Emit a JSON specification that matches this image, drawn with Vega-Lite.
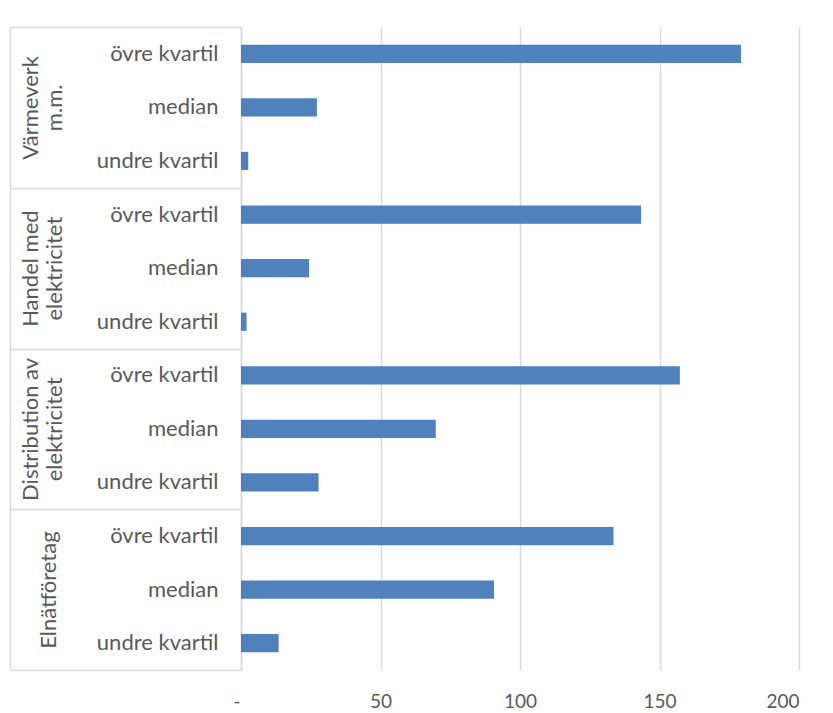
{
  "$schema": "https://vega.github.io/schema/vega-lite/v6.json",
  "autosize": "none",
  "width": 558,
  "height": 643,
  "padding": {"left": 241, "top": 27, "right": 34, "bottom": 43},
  "background": "white",
  "config": {
    "view": {"stroke": null},
    "font": "Lato",
    "axis": {"labelFont": "Lato", "labelColor": "#595959", "labelFontSize": 19, "titleFont": "Lato"}
  },
  "data": {
    "values": [
      {"group": "Värmeverk|m.m.", "key": "Värmeverk m.m.|övre kvartil", "value": 179.2},
      {"group": "Värmeverk|m.m.", "key": "Värmeverk m.m.|median", "value": 27.2},
      {"group": "Värmeverk|m.m.", "key": "Värmeverk m.m.|undre kvartil", "value": 2.6},
      {"group": "Handel med|elektricitet", "key": "Handel med elektricitet|övre kvartil", "value": 143.4},
      {"group": "Handel med|elektricitet", "key": "Handel med elektricitet|median", "value": 24.4},
      {"group": "Handel med|elektricitet", "key": "Handel med elektricitet|undre kvartil", "value": 2.0},
      {"group": "Distribution av|elektricitet", "key": "Distribution av elektricitet|övre kvartil", "value": 157.3},
      {"group": "Distribution av|elektricitet", "key": "Distribution av elektricitet|median", "value": 69.8},
      {"group": "Distribution av|elektricitet", "key": "Distribution av elektricitet|undre kvartil", "value": 27.8},
      {"group": "Elnätföretag", "key": "Elnätföretag|övre kvartil", "value": 133.5},
      {"group": "Elnätföretag", "key": "Elnätföretag|median", "value": 90.7},
      {"group": "Elnätföretag", "key": "Elnätföretag|undre kvartil", "value": 13.5}
    ]
  },
  "layer": [
    {
      "mark": {"type": "bar", "color": "#4F81BD"},
      "encoding": {
        "x": {
          "field": "value", "type": "quantitative",
          "scale": {"domain": [0, 200], "nice": false},
          "axis": {
            "title": null, "values": [0, 50, 100, 150, 200],
            "grid": true, "gridColor": "#d9d9d9", "gridWidth": 1.5,
            "domain": false, "ticks": false, "labelPadding": 22,
            "labelOffset": {"condition": {"test": "datum.value == 0", "value": -8}, "value": 0},
            "labelExpr": "datum.value == 0 ? '-' : datum.label"
          }
        },
        "y": {
          "field": "key", "type": "nominal",
          "scale": {
            "domain": [
              "Värmeverk m.m.|övre kvartil", "Värmeverk m.m.|median", "Värmeverk m.m.|undre kvartil",
              "Handel med elektricitet|övre kvartil", "Handel med elektricitet|median", "Handel med elektricitet|undre kvartil",
              "Distribution av elektricitet|övre kvartil", "Distribution av elektricitet|median", "Distribution av elektricitet|undre kvartil",
              "Elnätföretag|övre kvartil", "Elnätföretag|median", "Elnätföretag|undre kvartil"
            ],
            "paddingInner": 0.66, "paddingOuter": 0.33
          },
          "axis": {
            "title": null, "orient": "left",
            "domainColor": "#d9d9d9", "domainWidth": 1.5,
            "ticks": false, "labelFontSize": 22,
            "labelPadding": 23, "labelLimit": 300,
            "labelExpr": "isString(datum.value) ? split(datum.value, '|')[1] : ''"
          }
        }
      }
    },
    {
      "mark": {"type": "rule", "opacity": 0},
      "encoding": {
        "y": {
          "field": "group", "type": "nominal",
          "scale": {
            "domain": ["Värmeverk|m.m.", "Handel med|elektricitet", "Distribution av|elektricitet", "Elnätföretag"],
            "paddingInner": 0, "paddingOuter": 0
          },
          "axis": {
            "title": null, "orient": "left", "offset": 0,
            "domain": false,
            "tickBand": "extent", "tickSize": 231, "tickWidth": 1.5, "tickColor": "#d9d9d9",
            "labelAngle": 270, "labelAlign": "center", "labelBaseline": "middle",
            "labelFontSize": 22,
            "labelPadding": {"condition": {"test": "isString(datum.value) && indexof(datum.value, '|') >= 0", "value": -20}, "value": -38},
            "labelLimit": 300, "labelLineHeight": 24,
            "labelExpr": "isString(datum.value) ? split(datum.value, '|') : ''"
          }
        }
      }
    },
    {
      "mark": {"type": "rule", "opacity": 0},
      "encoding": {
        "y": {
          "field": "group", "type": "nominal",
          "scale": {
            "domain": ["Värmeverk|m.m.", "Handel med|elektricitet", "Distribution av|elektricitet", "Elnätföretag"],
            "paddingInner": 0, "paddingOuter": 0
          },
          "axis": {
            "title": null, "orient": "left", "offset": 231,
            "domainColor": "#d9d9d9", "domainWidth": 1.5,
            "ticks": false, "labels": false
          }
        }
      }
    }
  ],
  "resolve": {"scale": {"y": "independent"}, "axis": {"y": "independent"}}
}
